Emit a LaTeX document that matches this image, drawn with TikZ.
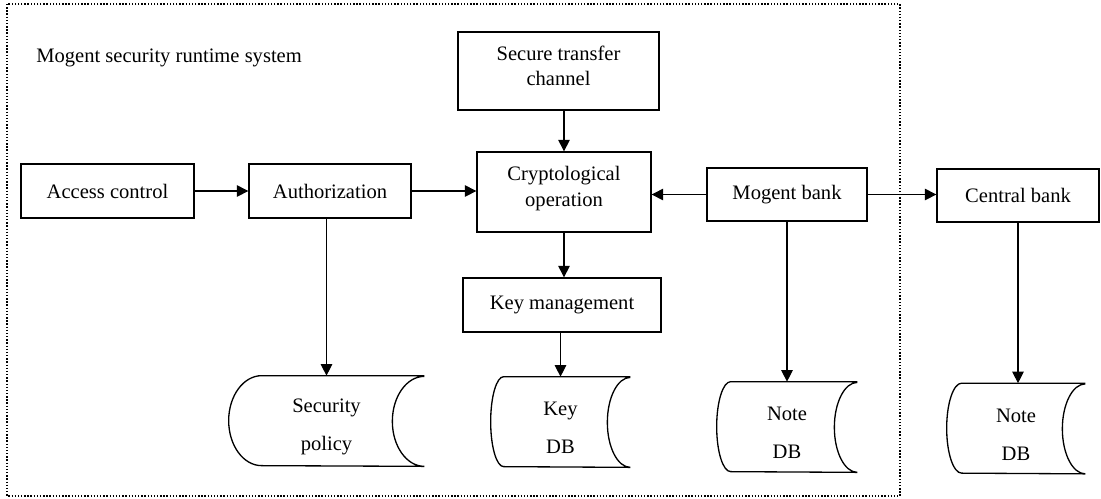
\documentclass[tikz,border=0pt]{standalone}
\usepackage{fontspec}
\setmainfont{Liberation Serif}
\usetikzlibrary{arrows.meta}

\begin{document}
\begin{tikzpicture}[x=0.02cm, y=-0.02cm,
  every node/.style={font=\fontsize{11.7}{14.7}\selectfont},
  box/.style={draw, line width=.75pt, inner sep=0, align=center},
  store/.style={inner sep=0, align=center, minimum height=1.8cm, text height=36pt},
  link/.style={line width=.6pt, -{Triangle[length=6.5pt,width=6.5pt]}}]
\useasboundingbox (0,0) rectangle (1101,498);
\fill[white] (0,0) rectangle (1101,498);
\draw[densely dotted, line width=.8pt] (7,4) rectangle (900,496);
\node[anchor=base west, inner sep=0] (title) at (36,62.5) {Mogent security runtime system};

\node[box, minimum width=3.46cm, minimum height=1.08cm] (access) at (107.5,191) {Access control};
\node[box, minimum width=3.24cm, minimum height=1.08cm] (auth) at (330,191) {Authorization};
\node[box, minimum width=4.02cm, minimum height=1.56cm, text depth=6pt] (secure) at (558.5,71) {Secure transfer\\channel};
\node[box, minimum width=3.48cm, minimum height=1.6cm, text depth=6pt] (crypto) at (564,192) {Cryptological\\operation};
\node[box, minimum width=3.96cm, minimum height=1.08cm] (keymgmt) at (562,305) {Key management};
\node[box, minimum width=3.2cm, minimum height=1.06cm] (mogent) at (787,194.5) {Mogent bank};
\node[box, minimum width=3.24cm, minimum height=1.06cm] (central) at (1018,195.5) {Central bank};

\node[store, minimum width=3.9cm] (secdb) at (326.5,421) {Security\\[6.8pt]policy};
\node[store, minimum width=2.78cm] (keydb) at (560.5,422) {Key\\[6.8pt]DB};
\node[store, minimum width=2.8cm] (notedb) at (787,427) {Note\\[6.8pt]DB};
\node[store, minimum width=2.76cm] (cnotedb) at (1016,428.5) {Note\\[6.8pt]DB};

% stored data outlines
\foreach \n/\l/\r in {secdb/.66cm/.64cm, keydb/.26cm/.46cm, notedb/.28cm/.46cm, cnotedb/.3cm/.46cm}
  \draw[line width=.75pt] (\n.north east) -- ([xshift=\l]\n.north west)
    arc[start angle=90, end angle=270, x radius=\l, y radius=.9cm] -- (\n.south east)
    arc[start angle=270, end angle=90, x radius=\r, y radius=.9cm];

\draw[link] (access.east) -- (auth.west);
\draw[link] (auth.east) -- (crypto.west |- auth.east);
\draw[link] (mogent.west) -- (crypto.east |- mogent.west);
\draw[link] (mogent.east) -- (central.west |- mogent.east);
\draw[link] (secure.south -| crypto.north) -- (crypto.north);
\draw[link] (crypto.south) -- (keymgmt.north -| crypto.south);
\draw[link] (auth.south -| secdb.north) -- (secdb.north);
\draw[link] (keymgmt.south -| keydb.north) -- (keydb.north);
\draw[link] (mogent.south) -- (notedb.north);
\draw[link] (central.south) -- (cnotedb.north -| central.south);
\end{tikzpicture}
\end{document}
